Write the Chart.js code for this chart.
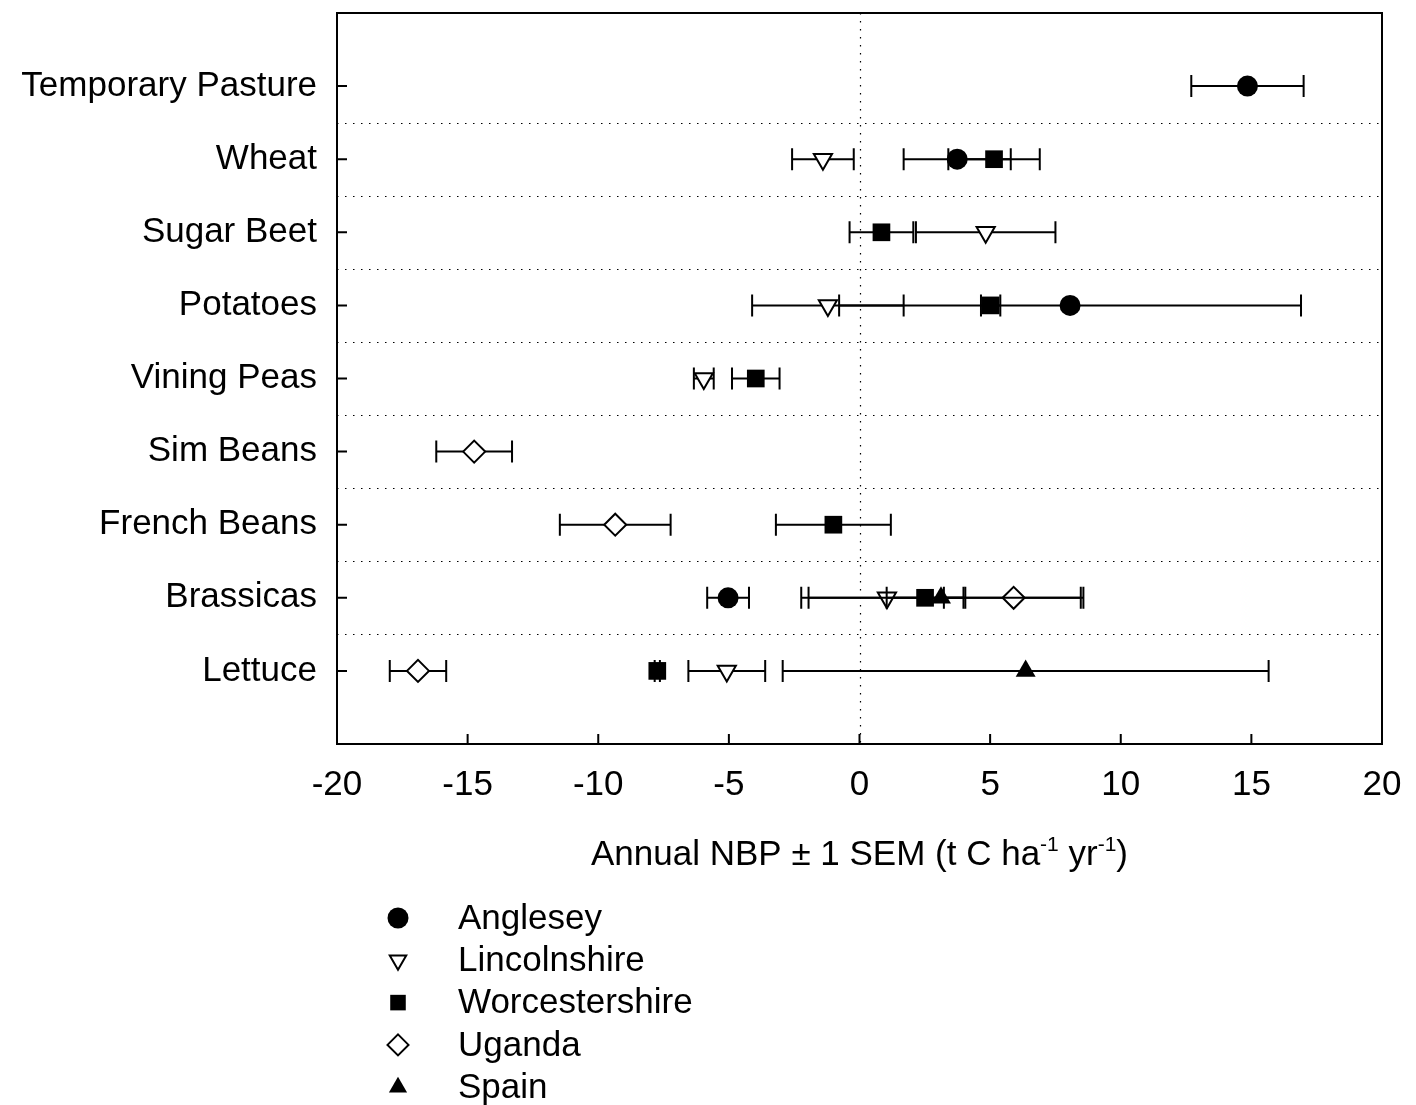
<!DOCTYPE html>
<html>
<head>
<meta charset="utf-8">
<script src="https://cdn.jsdelivr.net/npm/chart.js@4/dist/chart.umd.min.js"></script>
<style>
  body { margin: 0; background: #fff; }
  #wrap { width: 1416px; height: 1105px; }
</style>
</head>
<body>
<div id="wrap"><canvas id="nbpChart" width="1416" height="1105"></canvas></div>
<script>
// categories, top to bottom
const crops = ["Temporary Pasture", "Wheat", "Sugar Beet", "Potatoes", "Vining Peas",
  "Sim Beans", "French Beans", "Brassicas", "Lettuce"];

// annual NBP (t C/ha/yr) and 1 SEM, per site (null = not measured)
const angleseyNBP = [14.85, 3.74, null, 8.06, null, null, null, -5.03, null];
const angleseySEM = [2.15, 2.05, null, 8.84, null, null, null, 0.8, null];
const lincolnNBP = [null, -1.4, 4.83, -1.21, -5.96, null, null, 1.05, -5.08];
const lincolnSEM = [null, 1.18, 2.67, 2.9, 0.38, null, null, 3.0, 1.47];
const worcsNBP = [null, 5.15, 0.84, 5.02, -3.97, null, -1.0, 2.51, -7.74];
const worcsSEM = [null, 1.75, 1.22, 0.37, 0.91, null, 2.2, 1.47, 0.1];
const ugandaNBP = [null, null, null, null, null, -14.75, -9.35, 5.9, -16.9];
const ugandaSEM = [null, null, null, null, null, 1.45, 2.12, 2.67, 1.08];
const spainNBP = [null, null, null, null, null, null, null, 3.12, 6.36];
const spainSEM = [null, null, null, null, null, null, null, 5.35, 9.3];

const xTicks = [-20, -15, -10, -5, 0, 5, 10, 15, 20];

const FONT = "'Liberation Sans', Arial, sans-serif";
const FSIZE = 35;

function toPoints(vals) {
  const pts = [];
  vals.forEach((v, i) => { if (v !== null) pts.push({ x: v, y: i + 1 }); });
  return pts;
}

const sites = [
  { label: "Anglesey", vals: angleseyNBP, sem: angleseySEM, style: "circle", r: 10.5, rot: 0, fill: "#000", bw: 0 },
  { label: "Lincolnshire", vals: lincolnNBP, sem: lincolnSEM, style: "triangle", r: 10.5, rot: 180, fill: "#fff", bw: 2 },
  { label: "Worcestershire", vals: worcsNBP, sem: worcsSEM, style: "rect", r: 12.5, rot: 0, fill: "#000", bw: 0 },
  { label: "Uganda", vals: ugandaNBP, sem: ugandaSEM, style: "rectRot", r: 11, rot: 0, fill: "#fff", bw: 2 },
  { label: "Spain", vals: spainNBP, sem: spainSEM, style: "triangle", r: 11.5, rot: 0, fill: "#000", bw: 0 }
];

function drawMarker(ctx, s, x, y, r) {
  ctx.save();
  ctx.fillStyle = s.fill;
  ctx.strokeStyle = "#000";
  ctx.lineWidth = 2;
  ctx.beginPath();
  if (s.style === "circle") {
    ctx.arc(x, y, r, 0, Math.PI * 2);
  } else if (s.style === "rect") {
    const h = r * Math.SQRT1_2;
    ctx.rect(x - h, y - h, 2 * h, 2 * h);
  } else if (s.style === "rectRot") {
    ctx.moveTo(x, y - r); ctx.lineTo(x + r, y); ctx.lineTo(x, y + r); ctx.lineTo(x - r, y);
    ctx.closePath();
  } else {
    const d = s.rot === 180 ? 1 : -1;
    const a = Math.sqrt(3) / 2 * r;
    ctx.moveTo(x, y + d * r); ctx.lineTo(x + a, y - d * r / 2); ctx.lineTo(x - a, y - d * r / 2);
    ctx.closePath();
  }
  ctx.fill();
  if (s.bw > 0) ctx.stroke();
  ctx.restore();
}

const framePlugin = {
  id: "framePlugin",
  beforeDatasetsDraw(chart) {
    const { ctx, chartArea: a, scales } = chart;
    ctx.save();
    ctx.strokeStyle = "#000";
    ctx.lineWidth = 1.2;
    ctx.setLineDash([1.5, 6.5]);
    for (let i = 1; i < crops.length; i++) {
      const y = Math.round(scales.y.getPixelForValue(i + 0.5)) + 0.5;
      ctx.beginPath(); ctx.moveTo(a.left, y); ctx.lineTo(a.right, y); ctx.stroke();
    }
    const x0 = Math.round(scales.x.getPixelForValue(0)) + 0.5;
    ctx.beginPath(); ctx.moveTo(x0, a.top); ctx.lineTo(x0, a.bottom); ctx.stroke();
    ctx.restore();
  },
  beforeDatasetDraw(chart, args) {
    const s = sites[args.index];
    const { ctx, scales } = chart;
    ctx.save();
    ctx.strokeStyle = "#000";
    ctx.lineWidth = 2;
    s.vals.forEach((v, i) => {
      if (v === null) return;
      const y = scales.y.getPixelForValue(i + 1);
      const xl = scales.x.getPixelForValue(v - s.sem[i]);
      const xr = scales.x.getPixelForValue(v + s.sem[i]);
      ctx.beginPath();
      ctx.moveTo(xl, y); ctx.lineTo(xr, y);
      ctx.moveTo(xl, y - 11); ctx.lineTo(xl, y + 11);
      ctx.moveTo(xr, y - 11); ctx.lineTo(xr, y + 11);
      ctx.stroke();
    });
    ctx.restore();
  },
  afterDraw(chart) {
    const { ctx, chartArea: a, scales } = chart;
    ctx.save();
    ctx.strokeStyle = "#000";
    ctx.lineWidth = 2;
    ctx.strokeRect(a.left, a.top, a.right - a.left, a.bottom - a.top);
    ctx.beginPath();
    crops.forEach((c, i) => {
      const y = scales.y.getPixelForValue(i + 1);
      ctx.moveTo(a.left, y); ctx.lineTo(a.left + 10, y);
    });
    xTicks.slice(1, -1).forEach(t => {
      const x = scales.x.getPixelForValue(t);
      ctx.moveTo(x, a.bottom); ctx.lineTo(x, a.bottom - 10);
    });
    ctx.stroke();

    // axis title with superscripts
    const parts = [
      ["Annual NBP \u00B1 1 SEM (t C ha", false], ["-1", true], [" yr", false], ["-1", true], [")", false]
    ];
    const big = FSIZE + "px " + FONT, small = Math.round(FSIZE * 0.6) + "px " + FONT;
    let total = 0;
    parts.forEach(p => { ctx.font = p[1] ? small : big; total += ctx.measureText(p[0]).width; });
    let x = scales.x.getPixelForValue(0) - total / 2;
    const yBase = 865;
    ctx.fillStyle = "#000";
    ctx.textBaseline = "alphabetic";
    ctx.textAlign = "left";
    parts.forEach(p => {
      ctx.font = p[1] ? small : big;
      ctx.fillText(p[0], x, p[1] ? yBase - 14 : yBase);
      x += ctx.measureText(p[0]).width;
    });

    // legend
    ctx.font = big;
    ctx.textBaseline = "middle";
    sites.forEach((s, i) => {
      const y = 918 + i * 42.3;
      drawMarker(ctx, s, 398, y, s.style === "rect" ? 11 : (s.style === "triangle" && s.rot === 180 ? 9.5 : 10.5));
      ctx.fillStyle = "#000";
      ctx.fillText(s.label, 458, y + 1);
    });
    ctx.restore();
  }
};

Chart.defaults.color = "#000";
Chart.defaults.font.family = FONT;
Chart.defaults.font.size = FSIZE;

const chart = new Chart(document.getElementById("nbpChart"), {
  type: "scatter",
  data: {
    datasets: sites.map((s, i) => ({
      label: s.label,
      data: toPoints(s.vals),
      order: sites.length - i,
      pointStyle: s.style,
      pointRadius: s.r,
      pointHoverRadius: s.r,
      pointRotation: s.rot,
      pointBackgroundColor: s.fill,
      pointBorderColor: "#000",
      pointBorderWidth: s.bw,
      showLine: false
    }))
  },
  options: {
    responsive: false,
    animation: false,
    events: [],
    clip: false,
    layout: { padding: { left: 0, top: 9, right: 34, bottom: 0 } },
    plugins: { legend: { display: false }, tooltip: { enabled: false } },
    scales: {
      x: {
        type: "linear",
        min: -20, max: 20,
        grid: { display: false, drawTicks: false },
        border: { display: false },
        ticks: { stepSize: 5, padding: 20, maxRotation: 0, font: { size: FSIZE } },
        afterBuildTicks: (scale) => { scale.ticks = xTicks.map(v => ({ value: v })); },
        afterFit: (scale) => {
          scale.height = 1105 - 744;
          scale.paddingLeft = 0; scale.paddingRight = 0;
          scale.paddingTop = 0; scale.paddingBottom = 0;
        }
      },
      y: {
        type: "linear",
        min: 0, max: 10,
        reverse: true,
        grid: { display: false, drawTicks: false },
        border: { display: false },
        ticks: {
          padding: 20,
          autoSkip: false,
          font: { size: FSIZE },
          callback: (v) => crops[v - 1] || ""
        },
        afterBuildTicks: (scale) => { scale.ticks = crops.map((c, i) => ({ value: i + 1 })); },
        afterFit: (scale) => {
          scale.width = 337;
          scale.paddingTop = 0; scale.paddingBottom = 0;
          scale.paddingLeft = 0; scale.paddingRight = 0;
        }
      }
    }
  },
  plugins: [framePlugin]
});
</script>
</body>
</html>
